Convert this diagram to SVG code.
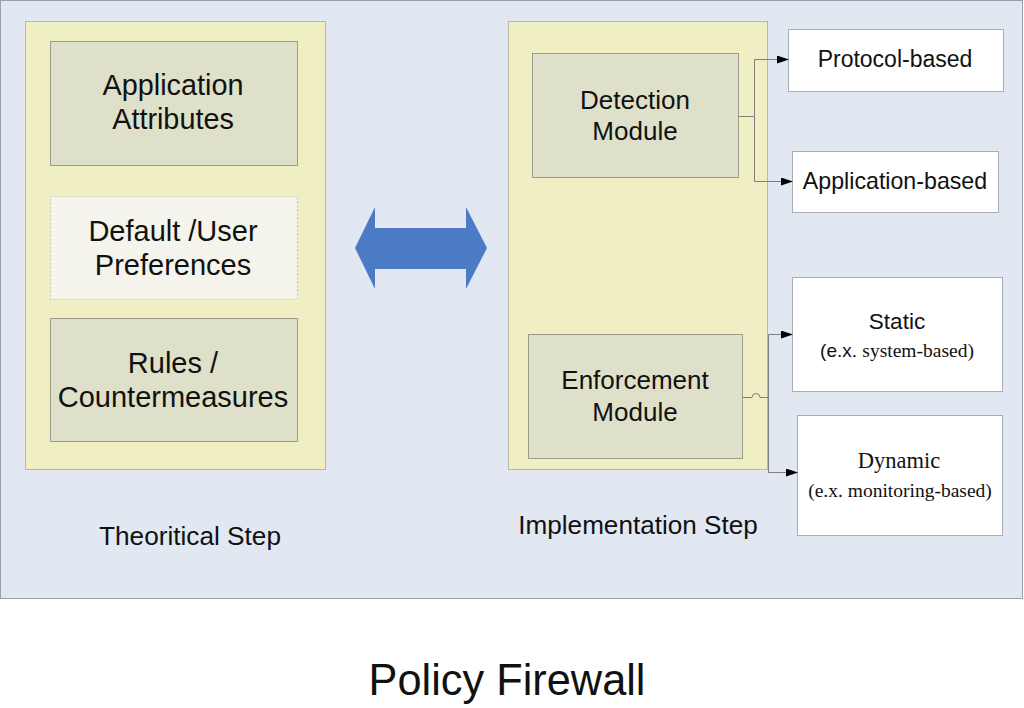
<svg xmlns="http://www.w3.org/2000/svg" width="1024" height="708" viewBox="0 0 1024 708">
<defs>
<style>
.sans{font-family:"Liberation Sans",Arial,sans-serif;fill:#111;text-anchor:middle}
.serif{font-family:"Liberation Serif","Times New Roman",serif;fill:#111;text-anchor:middle}
.panel{fill:#efefc3;stroke:#b9b99c;stroke-width:1}
.mod{fill:#dee0c9;stroke:#9c9c8a;stroke-width:1}
.out{fill:#ffffff;stroke:#a9adb5;stroke-width:1}
.conn{fill:none;stroke:#7f7f7f;stroke-width:1}
</style>
<marker id="ah" markerWidth="12" markerHeight="8" refX="11" refY="4" orient="auto" markerUnits="userSpaceOnUse">
<path d="M0,0 L12,4 L0,8 z" fill="#000"/>
</marker>
</defs>
<rect x="0" y="0" width="1024" height="708" fill="#ffffff"/>
<rect id="background" x="0.5" y="0.5" width="1022" height="598" fill="#e2e8f2" stroke="#9aa0aa"/>

<g id="theoretical-panel">
<rect class="panel" x="25.5" y="21.5" width="300" height="448"/>
</g>
<g id="application-attributes">
<rect class="mod" x="50.5" y="41.5" width="247" height="124"/>
<text class="sans" font-size="28.8" x="173" y="95">Application</text>
<text class="sans" font-size="28.8" x="173" y="129">Attributes</text>
</g>
<g id="default-user-preferences">
<rect x="50.5" y="196.5" width="247" height="103" fill="#f4f4ec" stroke="#c8c8b4" stroke-dasharray="2,2"/>
<text class="sans" font-size="29" x="173" y="241">Default /User</text>
<text class="sans" font-size="29" x="173" y="275">Preferences</text>
</g>
<g id="rules-countermeasures">
<rect class="mod" x="50.5" y="318.5" width="247" height="123"/>
<text class="sans" font-size="29" x="173" y="373">Rules /</text>
<text class="sans" font-size="29" x="173" y="407">Countermeasures</text>
</g>

<g id="double-arrow">
<path d="M355,248 L375,207 L375,228 L466,228 L466,207 L487,248 L466,289 L466,269 L375,269 L375,289 Z" fill="#4a7bc4"/>
</g>

<g id="implementation-panel">
<rect class="panel" x="508.5" y="21.5" width="259" height="448"/>
</g>
<g id="detection-module">
<rect class="mod" x="532.5" y="53.5" width="206" height="124"/>
<text class="sans" font-size="26" x="635" y="109">Detection</text>
<text class="sans" font-size="26" x="635" y="140">Module</text>
</g>
<g id="enforcement-module">
<rect class="mod" x="528.5" y="334.5" width="214" height="124"/>
<text class="sans" font-size="26" x="635" y="389">Enforcement</text>
<text class="sans" font-size="26" x="635" y="421">Module</text>
</g>

<g id="protocol-based">
<rect class="out" x="788.5" y="29.5" width="215" height="62"/>
<text class="sans" font-size="23" x="895" y="67">Protocol-based</text>
</g>
<g id="application-based">
<rect class="out" x="792.5" y="151.5" width="206" height="61"/>
<text class="sans" font-size="23.2" x="895" y="189">Application-based</text>
</g>
<g id="static">
<rect class="out" x="792.5" y="277.5" width="210" height="114"/>
<text class="sans" font-size="22.5" x="897" y="329">Static</text>
<text x="897" y="357" text-anchor="middle" fill="#111"><tspan font-family="Liberation Sans, Arial, sans-serif" font-size="19">(e.x. </tspan><tspan font-family="Liberation Serif, Times New Roman, serif" font-size="19.5">system-based)</tspan></text>
</g>
<g id="dynamic">
<rect class="out" x="797.5" y="415.5" width="205" height="120"/>
<text class="serif" font-size="22.5" x="899" y="468">Dynamic</text>
<text class="serif" font-size="19.5" x="900" y="497">(e.x. monitoring-based)</text>
</g>

<g id="connectors">
<path class="conn" d="M738.5,116.5 H754.5"/>
<path class="conn" d="M754.5,181.5 V59.5 H788" marker-end="url(#ah)"/>
<path class="conn" d="M754.5,181.5 H792" marker-end="url(#ah)"/>
<path class="conn" d="M742.5,397.5 H752 A4,4 0 0 1 760,397.5 H768.5"/>
<path class="conn" d="M768.5,472.5 V334.5 H792" marker-end="url(#ah)"/>
<path class="conn" d="M768.5,472.5 H797" marker-end="url(#ah)"/>
</g>

<g id="labels">
<text class="sans" font-size="26.2" x="190" y="545">Theoritical Step</text>
<text class="sans" font-size="26.1" x="638" y="534">Implementation Step</text>
<text class="sans" font-size="45" x="507" y="695" textLength="277" lengthAdjust="spacingAndGlyphs">Policy Firewall</text>
</g>
</svg>
